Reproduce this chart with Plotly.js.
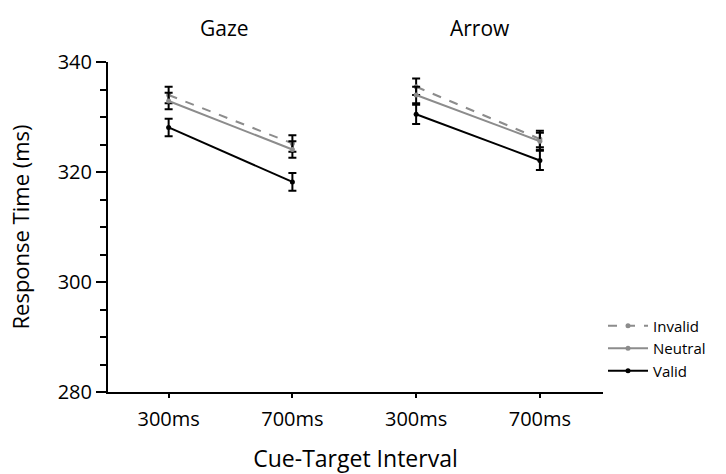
<!DOCTYPE html>
<html><head><meta charset="utf-8">
<script src="https://cdn.plot.ly/plotly-3.0.1.min.js"></script>
<style>body{margin:0;background:#fff}#chart{width:726px;height:474px}</style>
</head><body><div id="chart"></div>
<script>
const intervals = ["300ms", "700ms", "300ms", "700ms"];
const groups = ["Gaze", "Arrow"];
const invalid = [334.0, 325.2, 335.5, 326.0];
const invalidErr = [1.5, 1.5, 1.5, 1.5];
const neutral = [332.9, 324.1, 334.0, 325.6];
const neutralErr = [1.5, 1.5, 1.5, 1.55];
const valid = [328.1, 318.2, 330.5, 322.1];
const validErr = [1.6, 1.6, 1.75, 1.75];

const pos = [0, 1, 2, 3];
function split(arr) { return [arr[0], arr[1], null, arr[2], arr[3]]; }
const xs = [pos[0], pos[1], 1.5, pos[2], pos[3]];

function mk(name, y, err, color, dash) {
  return {
    type: 'scatter', mode: 'lines+markers', name: name,
    x: xs, y: split(y), connectgaps: false,
    line: {color: color, width: 2, dash: dash},
    marker: {color: color, size: 5},
    error_y: {type: 'data', array: split(err), visible: true, color: '#000', thickness: 2, width: 4}
  };
}
const data = [
  mk('Invalid', invalid, invalidErr, '#8c8c8c', 'dash'),
  mk('Neutral', neutral, neutralErr, '#8c8c8c', 'solid'),
  mk('Valid', valid, validErr, '#000000', 'solid')
];
const font = "'Open Sans', 'Noto Sans', sans-serif";
const layout = {
  width: 726, height: 474,
  margin: {l: 108, r: 123, t: 62, b: 82},
  paper_bgcolor: '#fff', plot_bgcolor: '#fff',
  font: {family: font, color: '#000', size: 16},
  showlegend: true,
  legend: {x: 1.0, xanchor: 'left', y: 0.25, yanchor: 'top', font: {size: 15},
           tracegroupgap: 0, itemwidth: 40, bgcolor: 'rgba(0,0,0,0)'},
  xaxis: {
    range: [-0.49, 3.51], tickvals: pos, ticktext: intervals,
    showline: true, linecolor: '#000', linewidth: 2, ticks: 'outside', ticklen: 4, tickwidth: 2,
    tickcolor: '#000', showgrid: false, zeroline: false, tickfont: {size: 20},
    ticklabelstandoff: 4,
    title: {text: 'Cue-Target Interval', font: {size: 23}, standoff: 26}
  },
  yaxis: {
    range: [280, 340], tickvals: [280, 300, 320, 340],
    showline: true, linecolor: '#000', linewidth: 2, ticks: 'outside', ticklen: 10, tickwidth: 2,
    tickcolor: '#000', showgrid: false, zeroline: false, tickfont: {size: 20},
    minor: {tickvals: [285, 290, 295, 305, 310, 315, 325, 330, 335], ticks: 'outside', ticklen: 6, tickwidth: 2, tickcolor: '#000', showgrid: false},
    title: {text: 'Response Time (ms)', font: {size: 22}, standoff: 22}
  },
  annotations: [
    {text: groups[0], x: 0.45, y: 1.0, xref: 'x', yref: 'paper', yanchor: 'bottom', yshift: 18, showarrow: false, font: {size: 21}},
    {text: groups[1], x: 2.52, y: 1.0, xref: 'x', yref: 'paper', yanchor: 'bottom', yshift: 18, showarrow: false, font: {size: 21}}
  ]
};
Plotly.newPlot('chart', data, layout, {displayModeBar: false, staticPlot: true});
</script></body></html>
